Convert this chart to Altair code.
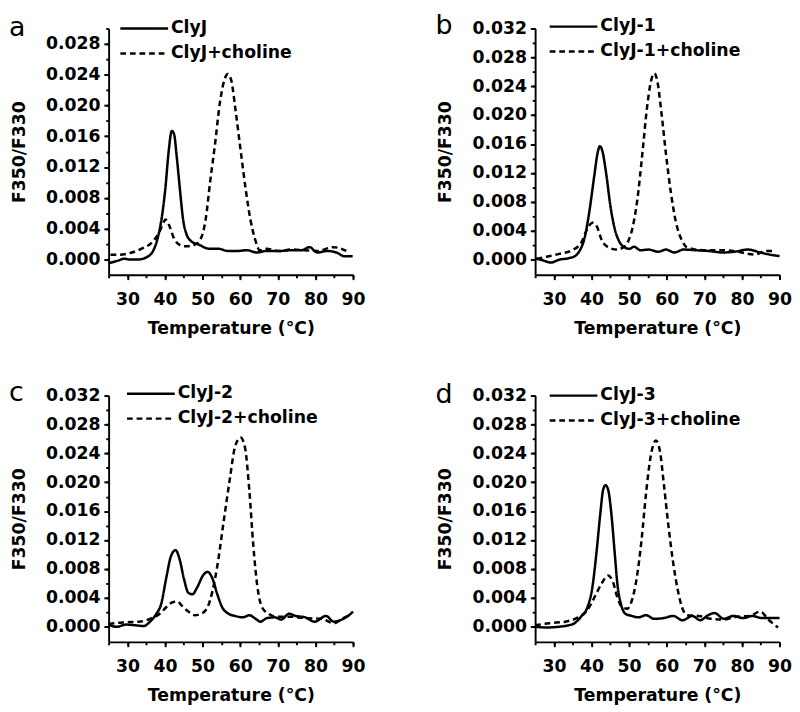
import altair as alt
import pandas as pd

FONT = "DejaVu Sans"

# ---------------- Panel a : ClyJ ----------------
a_solid_T = [25, 27.8, 29.1, 30.4, 32.9, 35.5, 36.7, 38, 39.3, 40.1, 41, 41.8, 42.4, 43.1, 44, 44.8,
             45.7, 46.9, 49.1, 51.6, 54.2, 56.7, 59.3, 61.8, 64.4, 66.9, 70.3, 73.7, 76.3, 78.4,
             80.5, 83.1, 85.6, 87.8, 89.9]
a_solid_V = [-0.0005, -0.0001, 0.0001, 0.0, 0.0, 0.0004, 0.001, 0.0027, 0.006, 0.0093, 0.0142,
             0.0167, 0.0163, 0.0134, 0.0089, 0.0052, 0.0033, 0.0024, 0.0019, 0.0014, 0.0014,
             0.0011, 0.0011, 0.0012, 0.0009, 0.0011, 0.0011, 0.0012, 0.0012, 0.0016, 0.0009,
             0.0011, 0.0009, 0.0004, 0.0004]
a_dash_T = [25.5, 27.4, 30.4, 33.8, 36.7, 38.4, 39.7, 40.1, 41.2, 42.4, 43.9, 45.7, 47.8, 49.5,
            50.8, 52, 53.3, 54.6, 55.9, 56.7, 57.6, 58.8, 60.1, 61.4, 62.7, 63.9, 65.2, 66.9,
            70.3, 73.7, 77.0, 80.5, 84.8, 88.2]
a_dash_V = [0.0006, 0.0006, 0.0008, 0.0014, 0.0023, 0.0035, 0.0049, 0.0052, 0.0043, 0.0027,
            0.0019, 0.0017, 0.0019, 0.0027, 0.0052, 0.0101, 0.015, 0.0204, 0.0235, 0.0241,
            0.0233, 0.0192, 0.0142, 0.0093, 0.0052, 0.0027, 0.0012, 0.0014, 0.0011, 0.0013,
            0.0012, 0.0011, 0.0016, 0.0011]

# ---------------- Panel b : ClyJ-1 ----------------
b_solid_T = [25, 27.1, 29.2, 31.4, 33.9, 35.6, 36.9, 38.2, 39.4, 40.7, 41.7, 42.2, 42.8, 43.9, 45,
             46.2, 47.5, 48.8, 50.1, 51.3, 53, 55.2, 57.7, 59.8, 62, 64.5, 67.9, 71.3, 74.7,
             78.1, 81.5, 84.9, 87.4, 90]
b_solid_V = [0.0002, -0.0001, -0.0004, 0.0, 0.0002, 0.0005, 0.0013, 0.0031, 0.0066, 0.0115,
             0.015, 0.0157, 0.0152, 0.0119, 0.0075, 0.0042, 0.0024, 0.0017, 0.0015, 0.0018,
             0.0013, 0.0014, 0.0011, 0.0014, 0.001, 0.0014, 0.0013, 0.0012, 0.001, 0.0011,
             0.0014, 0.001, 0.0007, 0.0005]
b_dash_T = [25.4, 28, 31.4, 34.8, 37.3, 39, 40.3, 41.4, 42.8, 44.5, 46.7, 48.4, 49.6, 50.9, 52.2,
            53.5, 54.7, 55.8, 56.7, 57.5, 58.6, 59.8, 61.1, 62.4, 64.1, 65.4, 70, 74.7, 79,
            83.2, 86.6, 88.3]
b_dash_V = [0.0001, 0.0004, 0.0008, 0.0013, 0.0024, 0.0044, 0.0051, 0.0046, 0.0026, 0.0017,
            0.0014, 0.0017, 0.0024, 0.0044, 0.0084, 0.0146, 0.0208, 0.0247, 0.0258, 0.0247,
            0.0203, 0.0146, 0.0093, 0.0053, 0.0026, 0.0017, 0.0013, 0.0013, 0.0011, 0.0007,
            0.0012, 0.0012]

# ---------------- Panel c : ClyJ-2 ----------------
c_solid_T = [25, 27.1, 29.7, 32.2, 34.3, 36, 37.7, 39, 40.3, 41.6, 42.8, 43.9, 45, 46.2, 47.3,
             48.5, 50.1, 51.3, 52.6, 53.9, 55.2, 56.9, 58.6, 60.7, 62.4, 64.1, 65.4, 67.1, 69.2,
             70.9, 73, 74.7, 77.3, 79.8, 82.8, 84.9, 87, 88.7, 90]
c_solid_V = [0.0003, 0.0, 0.0003, 0.0002, 0.0001, 0.0007, 0.0018, 0.0032, 0.0067, 0.0098,
             0.0106, 0.0093, 0.0067, 0.0047, 0.0045, 0.0054, 0.0071, 0.0076, 0.0067, 0.0045,
             0.0027, 0.0018, 0.0015, 0.0013, 0.0016, 0.0011, 0.0007, 0.0012, 0.0013, 0.001,
             0.0018, 0.0015, 0.0013, 0.0007, 0.0015, 0.0007, 0.001, 0.0015, 0.0021]
c_dash_T = [25, 28.8, 33.1, 36.5, 38.6, 40.3, 42, 43.3, 44.5, 46.2, 47.9, 49.6, 51.3, 52.6, 53.9,
            55.6, 57.3, 58.6, 60.1, 61.3, 62.4, 63.5, 64.5, 65.8, 67.5, 69.6, 73, 77.3, 81.5,
            84.9, 87.4, 88.7]
c_dash_V = [0.0004, 0.0006, 0.0007, 0.0012, 0.0018, 0.0027, 0.0034, 0.0035, 0.0029, 0.0021,
            0.0016, 0.0018, 0.0027, 0.0049, 0.0084, 0.0146, 0.0207, 0.0249, 0.0262, 0.0247,
            0.019, 0.0111, 0.0058, 0.0027, 0.0018, 0.0014, 0.0014, 0.0012, 0.0011, 0.0005,
            0.0012, 0.0015]

# ---------------- Panel d : ClyJ-3 ----------------
d_solid_T = [25, 28, 31.3, 33.9, 35.5, 37.2, 38.9, 40.2, 41.3, 42.3, 43.1, 43.7, 44.4, 45.3, 46.1,
             46.9, 47.8, 49, 50.7, 52.4, 54.5, 56.6, 59.2, 61.7, 64.2, 66.8, 68.9, 71, 72.7,
             75.2, 77.7, 80.3, 82.8, 85.3, 87.9, 90]
d_solid_V = [0.0, -0.0001, 0.0, 0.0002, 0.0005, 0.0014, 0.0027, 0.0054, 0.0102, 0.0155, 0.019,
             0.0196, 0.019, 0.0155, 0.0106, 0.0058, 0.0032, 0.0018, 0.0015, 0.0013, 0.0016,
             0.0011, 0.0012, 0.0015, 0.0009, 0.0015, 0.0009, 0.0016, 0.0019, 0.0011, 0.0015,
             0.0012, 0.0015, 0.0012, 0.0012, 0.0012]
d_dash_T = [25, 28.8, 33, 36.4, 38.9, 41, 42.7, 44.4, 45.7, 46.9, 48.2, 49.5, 50.7, 52, 53.3,
            54.5, 55.8, 57.1, 58.2, 59.2, 60.4, 61.7, 63, 64.2, 65.5, 68.5, 71.8, 75.2, 78.6,
            82, 84.9, 87, 89.6]
d_dash_V = [0.0002, 0.0005, 0.0007, 0.0013, 0.0023, 0.0043, 0.006, 0.0071, 0.0062, 0.004,
            0.0027, 0.0025, 0.0036, 0.0067, 0.012, 0.0185, 0.0238, 0.0258, 0.0243, 0.0199,
            0.0142, 0.0089, 0.0049, 0.0025, 0.0016, 0.0015, 0.0011, 0.001, 0.0014, 0.0015,
            0.0021, 0.001, -0.0001]

X_MAJOR = [30, 40, 50, 60, 70, 80, 90]
X_MINOR = [25, 30, 35, 40, 45, 50, 55, 60, 65, 70, 75, 80, 85, 90]


def panel(letter, name, sT, sV, dT, dV, ymin, ymax, ytop_label, lx, ly):
    names = [name, name + "+choline"]
    df = pd.DataFrame({
        "T": sT + dT,
        "V": sV + dV,
        "series": [names[0]] * len(sT) + [names[1]] * len(dT),
    })
    y_major = [round(0.004 * i, 3) for i in range(int(round(ytop_label / 0.004)) + 1)]
    y_minor = [round(0.002 * i, 3) for i in range(int(round(ymax / 0.002)) + 1)]
    xscale = alt.Scale(domain=[25, 90], nice=False, zero=False)
    yscale = alt.Scale(domain=[ymin, ymax], nice=False, zero=False)

    main = alt.Chart(df).mark_line(
        interpolate="monotone", color="black", strokeWidth=2.6
    ).encode(
        x=alt.X("T:Q", scale=xscale,
                axis=alt.Axis(values=X_MAJOR, title="Temperature (°C)", orient="bottom",
                              tickSize=5, labelPadding=12, titlePadding=12, labelFlush=False)),
        y=alt.Y("V:Q", scale=yscale,
                axis=alt.Axis(values=y_major, format=".3f", title="F350/F330", orient="left",
                              tickSize=5, labelPadding=4, titlePadding=18)),
        strokeDash=alt.StrokeDash(
            "series:N",
            scale=alt.Scale(domain=names, range=[[1, 0], [6, 4]]),
            legend=alt.Legend(
                title=None, orient="none", legendX=lx, legendY=ly,
                symbolType="M-7.3,0H1", symbolSize=144, symbolStrokeWidth=2.5,
                symbolStrokeColor="black", symbolFillColor="transparent",
                labelFont=FONT, labelFontSize=18, labelFontWeight="bold",
                labelColor="black", labelOffset=0, rowPadding=8, padding=0,
            ),
        ),
    )
    minor = alt.Chart(df).mark_line(opacity=0).encode(
        x=alt.X("T:Q", scale=xscale,
                axis=alt.Axis(values=X_MINOR, labels=False, domain=False, tickSize=3,
                              title=None, orient="bottom", grid=False)),
        y=alt.Y("V:Q", scale=yscale,
                axis=alt.Axis(values=y_minor, labels=False, domain=False, tickSize=3,
                              title=None, orient="left", grid=False)),
    )
    return alt.layer(main, minor).resolve_scale(x="independent", y="independent").properties(
        width=255, height=257,
        title=alt.TitleParams(letter, anchor="start", frame="bounds", font=FONT, fontSize=28,
                              fontWeight="normal", color="black", offset=-23, dx=-2),
    )


pa = panel("a", "ClyJ", a_solid_T, a_solid_V, a_dash_T, a_dash_V, -0.002, 0.030, 0.028, 47, -9)
pb = panel("b", "ClyJ-1", b_solid_T, b_solid_V, b_dash_T, b_dash_V, -0.0021, 0.032, 0.032, 50, -11)
pc = panel("c", "ClyJ-2", c_solid_T, c_solid_V, c_dash_T, c_dash_V, -0.0021, 0.032, 0.032, 54, -11)
pd_ = panel("d", "ClyJ-3", d_solid_T, d_solid_V, d_dash_T, d_dash_V, -0.0021, 0.032, 0.032, 50, -9)

chart = alt.concat(pa, pb, pc, pd_, columns=2, spacing={"row": 45, "column": 73}).resolve_scale(
    strokeDash="independent"
).resolve_legend(
    strokeDash="independent"
).configure(
    padding={"left": 1, "top": -10, "right": 0, "bottom": 0},
    background="white",
).configure_view(stroke=None).configure_axis(
    domainColor="black", domainWidth=2, tickColor="black", tickWidth=2, grid=False,
    labelFont=FONT, labelFontSize=18, labelFontWeight="bold", labelColor="black",
    titleFont=FONT, titleFontSize=18, titleFontWeight="bold", titleColor="black",
)

chart.save("out.html", embed_options={"renderer": "svg", "actions": False})
